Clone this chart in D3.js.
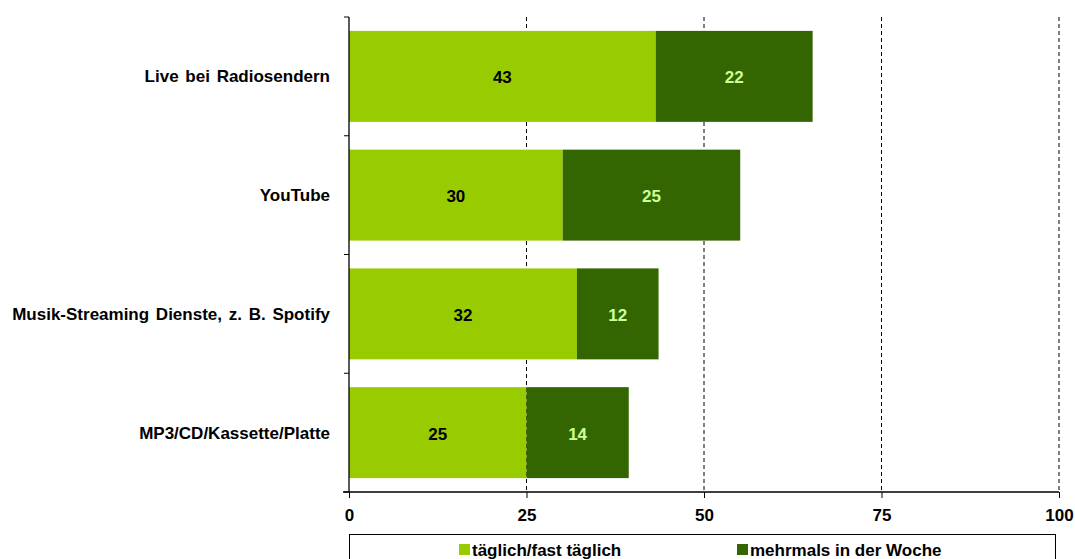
<!DOCTYPE html>
<html lang="en">
<head>
    <meta charset="UTF-8">
    <title>Musiknutzung</title>
    <script src="https://d3js.org/d3.v7.min.js"></script>
    <style>
        body { margin: 0; background: #fff; }
        text { font-family: "Liberation Sans", Arial, sans-serif; font-weight: bold; }
    </style>
</head>
<body>
    <svg width="1075" height="559" id="chart"></svg>
    <script>
        // data
        const categories = ["Live bei Radiosendern", "YouTube", "Musik-Streaming Dienste, z. B. Spotify", "MP3/CD/Kassette/Platte"];
        const daily = [43.2, 30.1, 32.1, 25.0];
        const weekly = [22.1, 25.0, 11.5, 14.4];
        const seriesNames = ["täglich/fast täglich", "mehrmals in der Woche"];
        const seriesColors = ["#99cc00", "#336600"];
        const labelColors = ["#000000", "#ccff99"];
        const xTicks = [0, 25, 50, 75, 100];

        const svg = d3.select("#chart");
        const plotLeft = 349, plotRight = 1059, plotTop = 17, plotBottom = 492;
        const fs = 17;

        const x = d3.scaleLinear().domain([0, 100]).range([plotLeft, plotRight]);
        const y = d3.scaleBand().domain(categories).range([plotTop, plotBottom])
            .paddingInner(0.234).paddingOuter(0.117);

        // dashed gridlines
        svg.append("g").selectAll("line")
            .data(xTicks.filter(d => d > 0))
            .enter().append("line")
            .attr("x1", d => x(d)).attr("x2", d => x(d))
            .attr("y1", plotTop).attr("y2", plotBottom)
            .attr("stroke", "#000").attr("stroke-width", 1)
            .attr("stroke-dasharray", "4,3");

        // stacked bars
        const stacks = categories.map((c, i) => [
            { cat: c, x0: 0, x1: daily[i], s: 0 },
            { cat: c, x0: daily[i], x1: daily[i] + weekly[i], s: 1 }
        ]).flat();

        svg.append("g").selectAll("rect")
            .data(stacks)
            .enter().append("rect")
            .attr("x", d => x(d.x0))
            .attr("y", d => y(d.cat))
            .attr("width", d => x(d.x1) - x(d.x0))
            .attr("height", y.bandwidth())
            .attr("fill", d => seriesColors[d.s]);

        svg.append("g").selectAll("text")
            .data(stacks)
            .enter().append("text")
            .attr("x", d => (x(d.x0) + x(d.x1)) / 2)
            .attr("y", d => y(d.cat) + y.bandwidth() / 2 + 1)
            .attr("dy", "0.35em")
            .attr("text-anchor", "middle")
            .attr("font-size", fs)
            .attr("fill", d => labelColors[d.s])
            .text(d => Math.round(d.x1 - d.x0));

        // y axis with ticks at band edges
        const edges = categories.map(c => y(c) - y.step() * y.paddingInner() / 2);
        edges.push(plotBottom);
        const yAxis = svg.append("g");
        yAxis.append("line")
            .attr("x1", plotLeft).attr("x2", plotLeft).attr("y1", plotTop).attr("y2", plotBottom)
            .attr("stroke", "#000").attr("stroke-width", 1.3);
        yAxis.selectAll(".tk").data(edges).enter().append("line")
            .attr("x1", plotLeft - 5).attr("x2", plotLeft)
            .attr("y1", d => d).attr("y2", d => d)
            .attr("stroke", "#000");
        yAxis.selectAll("text").data(categories).enter().append("text")
            .attr("x", 330)
            .attr("y", d => y(d) + y.bandwidth() / 2)
            .attr("dy", "0.35em")
            .attr("text-anchor", "end")
            .attr("font-size", fs)
            .attr("word-spacing", 2)
            .attr("fill", "#000")
            .text(d => d);

        // x axis
        const xAxis = svg.append("g")
            .attr("transform", `translate(0,${plotBottom})`)
            .call(d3.axisBottom(x).tickValues(xTicks).tickSize(6).tickPadding(11));
        xAxis.select(".domain").attr("stroke", "#000").attr("stroke-width", 1.3)
            .attr("d", `M${plotLeft - 6},0H${plotRight}`);
        xAxis.selectAll(".tick line").attr("stroke", "#000");
        xAxis.selectAll(".tick text").attr("font-size", fs).attr("fill", "#000")
            .attr("font-family", "Liberation Sans, Arial, sans-serif");

        // legend
        const lg = svg.append("g");
        lg.append("rect")
            .attr("x", 349.5).attr("y", 534.5).attr("width", 706).attr("height", 40)
            .attr("fill", "#fff").attr("stroke", "#000");
        const legendX = [459, 737];
        seriesNames.forEach((n, i) => {
            lg.append("rect").attr("x", legendX[i]).attr("y", 544)
                .attr("width", 11).attr("height", 11).attr("fill", seriesColors[i]);
            lg.append("text").attr("x", legendX[i] + 13).attr("y", 556)
                .attr("font-size", fs).attr("fill", "#000").text(n);
        });
    </script>
</body>
</html>
